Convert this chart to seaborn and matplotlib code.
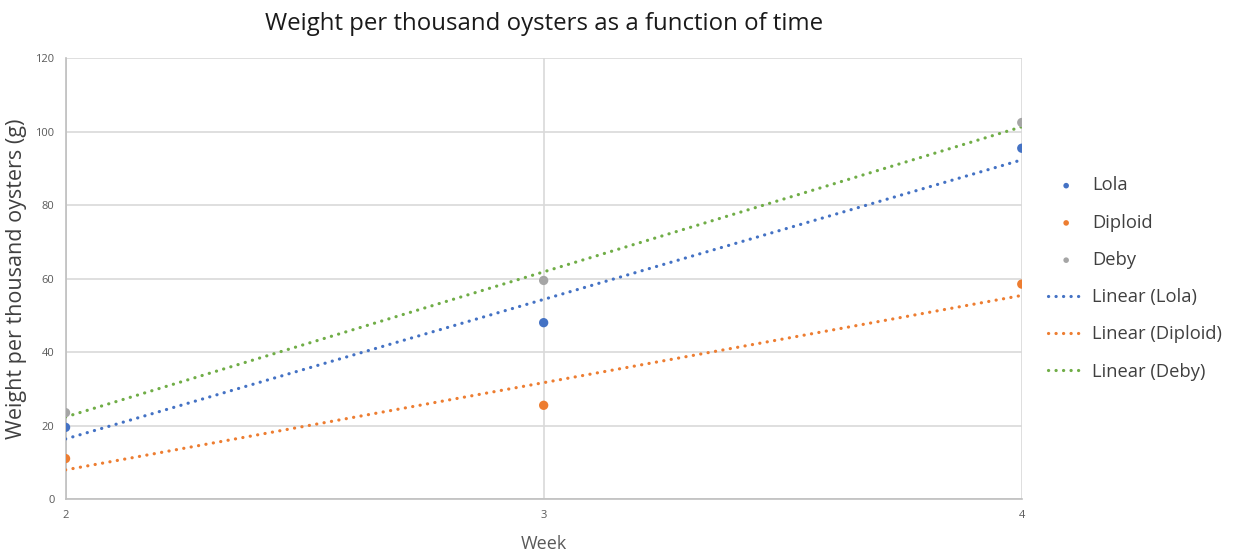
import numpy as np
import pandas as pd
import seaborn as sns
import matplotlib
matplotlib.use("Agg")
import matplotlib.pyplot as plt

weeks = [2, 3, 4]
lola = [19.5, 48.0, 95.5]
diploid = [11.0, 25.5, 58.5]
deby = [23.5, 59.5, 102.5]

series_names = ["Lola", "Diploid", "Deby"]
point_colors = ["#4472C4", "#ED7D31", "#A5A5A5"]
trend_colors = ["#4472C4", "#ED7D31", "#70AD47"]

sns.set_style("white")
plt.rcParams["font.family"] = ["Open Sans", "DejaVu Sans"]

df = pd.DataFrame({
    "Week": weeks * 3,
    "Weight": lola + diploid + deby,
    "Variety": [n for n in series_names for _ in weeks],
})

fig = plt.figure(figsize=(12.37, 5.6), dpi=100)
ax = fig.add_axes([0.053, 0.109, 0.773, 0.787])

for name, pc in zip(series_names, point_colors):
    sub = df[df["Variety"] == name]
    sns.scatterplot(data=sub, x="Week", y="Weight", ax=ax, color=pc, s=45,
                    edgecolor="none", label=name, zorder=4)

for name, tc in zip(series_names, trend_colors):
    sub = df[df["Variety"] == name]
    sns.regplot(data=sub, x="Week", y="Weight", ax=ax, scatter=False, ci=None,
                truncate=True, label=f"Linear ({name})",
                line_kws=dict(color=tc, lw=2.3, linestyle=(0, (0.05, 2.3)),
                              dash_capstyle="round", zorder=3))

ax.set_xlim(2, 4)
ax.set_ylim(0, 120)
ax.set_xticks(weeks)
ax.set_yticks(range(0, 121, 20))
ax.grid(True, color="#d9d9d9", lw=1.2)
ax.set_axisbelow(True)
for side in ["top", "right"]:
    ax.spines[side].set_visible(False)
for side in ["left", "bottom"]:
    ax.spines[side].set_color("#bfbfbf")
    ax.spines[side].set_linewidth(1.2)
ax.tick_params(axis="both", length=0, labelsize=8, colors="#595959", pad=8)

ax.set_title("Weight per thousand oysters as a function of time",
             fontsize=17.3, color="#1a1a1a", pad=20)
ax.set_xlabel("Week", fontsize=13, color="#595959", labelpad=10)
ax.set_ylabel("Weight per thousand oysters (g)", fontsize=15.5, color="#404040",
              labelpad=6)

handles, labels = ax.get_legend_handles_labels()
leg = ax.legend(handles, labels, loc="center left", bbox_to_anchor=(1.01, 0.5),
                frameon=False, fontsize=13.2, handlelength=2.0, labelspacing=1.05,
                markerscale=0.6, handletextpad=0.4)
for t in leg.get_texts():
    t.set_color("#404040")

fig.savefig("out.png", dpi=100)
